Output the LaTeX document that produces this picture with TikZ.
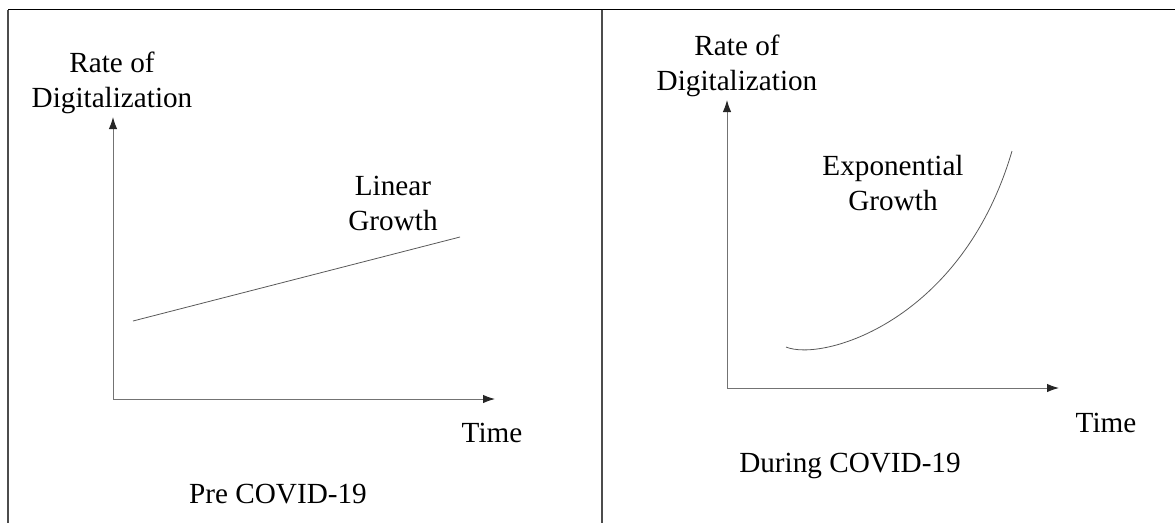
\documentclass[tikz,border=0pt]{standalone}
\usepackage{fontspec}
\setmainfont{Liberation Serif}
\usetikzlibrary{arrows.meta}
\begin{document}
\begin{tikzpicture}[x=1pt,y=-1pt,
  frameline/.style={draw=black!70, line width=1.2pt},
  topline/.style={draw=black, line width=1.6pt},
  axisline/.style={draw=black!55, line width=1pt, -{Latex[length=12pt,width=8.5pt,color=black!85]}},
  graphline/.style={draw=black!65, line width=0.8pt},
  lbl/.style={font=\fontsize{29.2}{35}\selectfont, inner sep=0pt, anchor=base, align=center}]
\useasboundingbox (0,0) rectangle (1175,523);
% frame
\coordinate (tl) at (8,9.5);
\coordinate (tr) at (1175,9.5);
\coordinate (bl) at (8,523);
\coordinate (tm) at (602,9.5);
\coordinate (bm) at (602,523);
\draw[topline] (tl) -- (tr);
\draw[frameline] (tl) -- (bl);
\draw[frameline] (tm) -- (bm);
% left panel
\coordinate (o1) at (113,399);
\coordinate (y1) at (113,117);
\coordinate (x1) at (495,399);
\draw[axisline] (o1) -- (y1);
\draw[axisline] (o1) -- (x1);
\coordinate (l1) at (133,321);
\coordinate (l2) at (460,237);
\draw[graphline] (l1) -- (l2);
\node[lbl] (rate1) at (112,107) {Rate of\\Digitalization};
\node[lbl] (lin) at (393,230) {Linear\\Growth};
\node[lbl] (time1) at (492,442) {Time};
\node[lbl] (pre) at (278,503) {Pre COVID-19};
% right panel
\coordinate (o2) at (727,388);
\coordinate (y2) at (727,100);
\coordinate (x2) at (1059,388);
\draw[axisline] (o2) -- (y2);
\draw[axisline] (o2) -- (x2);
\coordinate (c1) at (786,347);
\coordinate (c2) at (1012,151);
\draw[graphline] (c1) .. controls (822,362) and (962,322) .. (c2);
\node[lbl] (rate2) at (737,90) {Rate of\\Digitalization};
\node[lbl] (expo) at (893,210) {Exponential\\Growth};
\node[lbl] (time2) at (1106,432) {Time};
\node[lbl] (dur) at (850,472) {During COVID-19};
\end{tikzpicture}
\end{document}
